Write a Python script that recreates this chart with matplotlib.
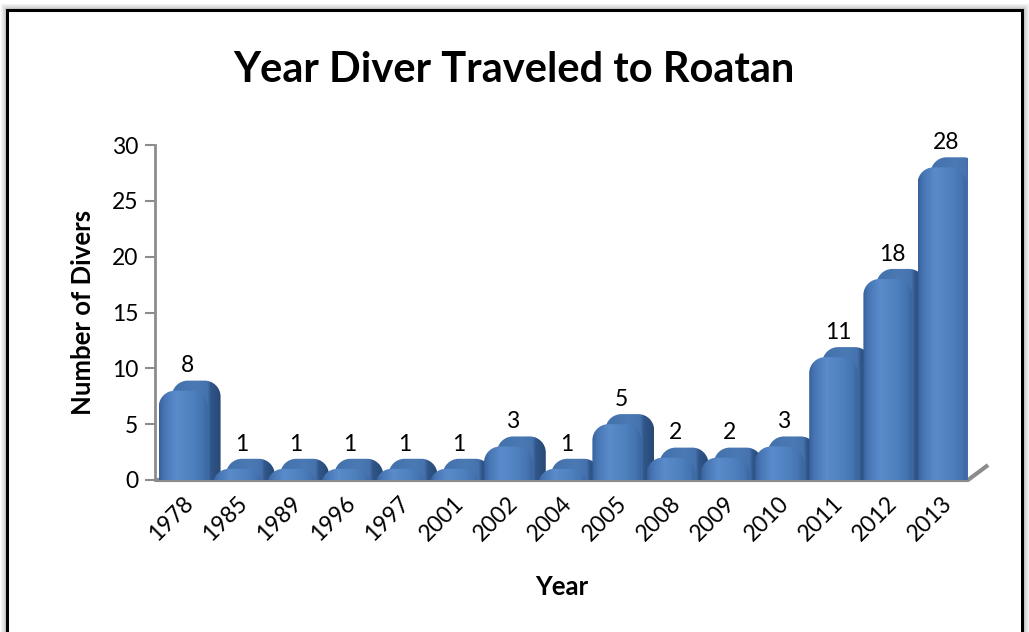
import numpy as np
import matplotlib.pyplot as plt
from matplotlib.patches import PathPatch, Rectangle
from matplotlib.path import Path
from matplotlib.colors import LinearSegmentedColormap

# Survey answers: year of the first trip and how many divers gave it
years = ['1978', '1985', '1989', '1996', '1997', '2001', '2002', '2004',
         '2005', '2008', '2009', '2010', '2011', '2012', '2013']
divers = [8, 1, 1, 1, 1, 1, 3, 1, 5, 2, 2, 3, 11, 18, 28]

plt.rcParams['font.family'] = ['Lato', 'DejaVu Sans']

W, H = 1029, 632
fig = plt.figure(figsize=(W / 100, H / 100), dpi=100)

# outer chart frame with a soft shadow
for k, a in zip(range(6, 0, -1), [0.08, 0.12, 0.18, 0.25, 0.32, 0.4]):
    fig.patches.append(Rectangle(((7 - k) / W, -0.1), (1015 + 2 * k) / W, 1.1 - (10 - k) / H,
                                 transform=fig.transFigure, facecolor='none',
                                 edgecolor='gray', lw=1, alpha=a))
fig.patches.append(Rectangle((7 / W, -0.1), 1015 / W, 1.1 - 10 / H,
                             transform=fig.transFigure, facecolor='none',
                             edgecolor='black', lw=2.2))

ax = fig.add_axes([155 / W, 1 - 480 / H, 813 / W, 335 / H])


def top_rounded(x0, w, y0, y1, rx, ry):
    # column outline with rounded top corners (quarter ellipses)
    k = 0.5523
    verts = [(x0, y0), (x0, y1 - ry),
             (x0, y1 - ry + k * ry), (x0 + rx - k * rx, y1), (x0 + rx, y1),
             (x0 + w - rx, y1),
             (x0 + w - rx + k * rx, y1), (x0 + w, y1 - ry + k * ry), (x0 + w, y1 - ry),
             (x0 + w, y0), (x0, y0)]
    codes = [Path.MOVETO, Path.LINETO,
             Path.CURVE4, Path.CURVE4, Path.CURVE4,
             Path.LINETO,
             Path.CURVE4, Path.CURVE4, Path.CURVE4,
             Path.LINETO, Path.CLOSEPOLY]
    return Path(verts, codes)


# bar geometry (front face width, depth offset, corner radius)
bw = 0.9
dx, dy = 0.24, 0.9
px_x = 813 / len(years)
px_y = 335 / 30
rx = 16 / px_x
ry = 16 / px_y

front_cmap = LinearSegmentedColormap.from_list(
    'front', [(0, '#36609A'), (0.1, '#4775B2'), (0.35, '#5A8BCB'),
              (0.7, '#4E80BE'), (0.9, '#4473B0'), (1, '#3A659E')])
back_cmap = LinearSegmentedColormap.from_list(
    'back', [(0, '#4371AB'), (0.5, '#4A79B4'), (0.72, '#4673AE'),
             (0.8, '#30568A'), (1, '#284874')])
grad = np.linspace(0, 1, 256).reshape(1, -1)

xs = np.arange(len(years))
base = -1.8
for x, v in zip(xs, divers):
    x0 = x - bw / 2 + 0.02
    # depth: top and right side
    back = PathPatch(top_rounded(x0 + dx, bw, base + dy, v + dy, rx, ry),
                     facecolor='none', edgecolor='none')
    ax.add_patch(back)
    im = ax.imshow(grad, cmap=back_cmap, extent=[x0 + dx, x0 + dx + bw, base + dy, v + dy],
                   aspect='auto', zorder=2)
    im.set_clip_path(back)
    # front face
    front = PathPatch(top_rounded(x0, bw, base, v, rx, ry),
                      facecolor='none', edgecolor='none')
    ax.add_patch(front)
    im = ax.imshow(grad, cmap=front_cmap, extent=[x0, x0 + bw, base, v],
                   aspect='auto', zorder=2)
    im.set_clip_path(front)
    ax.annotate(str(v), (x + 0.1, v + dy), xytext=(0, 3), textcoords='offset points',
                ha='center', va='bottom', fontsize=16.5)

ax.set_xlim(-0.5, len(years) - 0.5)
ax.set_ylim(0, 30)

# floor edge
ax.plot([-0.5, len(years) - 0.5, len(years) - 0.5 + 0.37], [0, 0, 1.34],
        color='#8C8C8C', lw=3, clip_on=False, zorder=1, solid_capstyle='butt')

for s in ['top', 'right', 'bottom']:
    ax.spines[s].set_visible(False)
ax.spines['left'].set_color('#8C8C8C')
ax.spines['left'].set_linewidth(2)

ax.set_yticks(np.arange(0, 31, 5))
ax.tick_params(axis='y', length=7, width=1.5, color='#8C8C8C', pad=5, labelsize=16.5)
ax.set_xticks(xs)
ax.set_xticklabels(years, rotation=45, ha='right', rotation_mode='anchor', fontsize=16.5)
ax.tick_params(axis='x', length=0, pad=9)

ax.set_ylabel('Number of Divers', fontsize=18.5, fontweight='bold', labelpad=12)
ax.set_xlabel('Year', fontsize=18.5, fontweight='bold', labelpad=22)

fig.text(514 / W, 1 - 70 / H, 'Year Diver Traveled to Roatan', ha='center', va='center',
         fontsize=30, fontweight='bold')

fig.savefig('out.png', dpi=100)
